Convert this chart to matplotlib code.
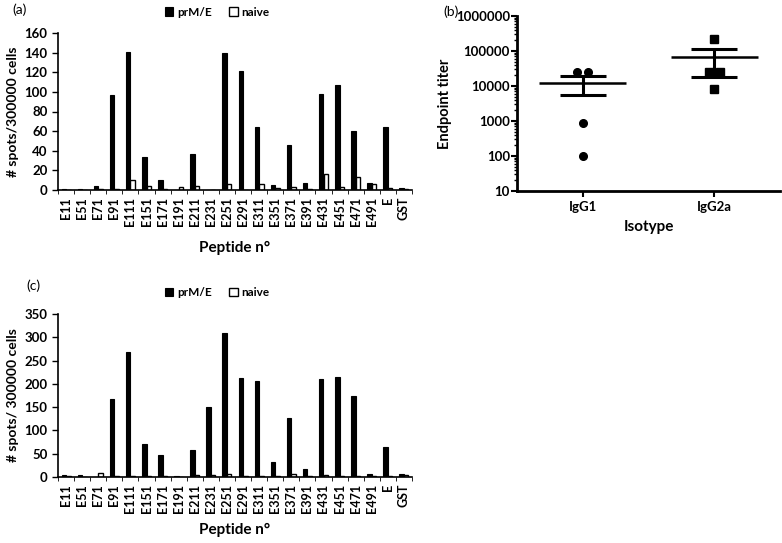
import numpy as np
import matplotlib
matplotlib.use("Agg")
import matplotlib.pyplot as plt
from matplotlib.ticker import LogLocator, NullFormatter, FixedLocator

plt.rcParams['font.family'] = ['Lato', 'DejaVu Sans']
plt.rcParams['font.weight'] = 'bold'

peptides = ["E11", "E51", "E71", "E91", "E111", "E151", "E171", "E191", "E211", "E231",
            "E251", "E291", "E311", "E351", "E371", "E391", "E431", "E451", "E471", "E491",
            "E", "GST"]

a_prme = [1, 1, 4, 97, 141, 34, 10, 0, 37, 0, 140, 121, 64, 5, 46, 7, 98, 107, 60, 7, 64, 2]
a_naive = [0, 0, 1, 1, 10, 4, 1, 3, 4, 0, 6, 0, 6, 2, 3, 1, 16, 3, 13, 6, 2, 1]

c_prme = [4, 5, 1, 167, 268, 70, 47, 3, 59, 151, 309, 212, 206, 33, 126, 18, 210, 214, 175, 6, 64, 7]
c_naive = [3, 1, 9, 3, 3, 2, 2, 1, 5, 5, 7, 2, 2, 2, 6, 2, 5, 2, 2, 2, 2, 4]

isotypes = ["IgG1", "IgG2a"]
igg1_titers = [25000, 25000, 900, 100]
igg2a_titers = [215000, 25000, 25000, 8000]
igg1_mean, igg1_low, igg1_high = 12400, 5500, 19300
igg2a_mean, igg2a_low, igg2a_high = 69000, 18500, 117000

W, H = 782, 543
fig = plt.figure(figsize=(W / 100, H / 100), dpi=100)


def ax_rect(x0, y0, x1, y1):
    return [x0 / W, 1 - y1 / H, (x1 - x0) / W, (y1 - y0) / H]


def bar_panel(ax, prme, naive, ymax, ystep, ylabel, xlabpad):
    x = np.arange(len(peptides))
    bw = 0.28
    ax.bar(x - bw / 2, prme, width=bw, color='black', edgecolor='black', linewidth=0.8, label='prM/E')
    ax.bar(x + bw / 2, naive, width=bw, color='white', edgecolor='black', linewidth=1.0, label='naive')
    ax.set_xlim(-0.5, len(peptides) - 0.5)
    ax.set_ylim(0, ymax)
    ax.set_yticks(np.arange(0, ymax + 1, ystep))
    ax.set_xticks(x)
    ax.set_xticklabels(peptides, rotation=90, fontsize=9, fontweight='bold')
    ax.tick_params(axis='x', length=0, pad=5)
    ax.xaxis.set_minor_locator(FixedLocator(np.arange(-0.5, len(peptides), 1)))
    ax.tick_params(axis='x', which='minor', length=3, width=0.6, direction='out')
    ax.tick_params(axis='y', length=4, width=1, labelsize=9.5)
    for lab in ax.get_yticklabels():
        lab.set_fontweight('bold')
    for s in ['top', 'right']:
        ax.spines[s].set_visible(False)
    ax.spines['left'].set_linewidth(1.2)
    ax.spines['bottom'].set_linewidth(1.2)
    ax.set_ylabel(ylabel, fontsize=10, fontweight='bold', labelpad=4)
    ax.set_xlabel('Peptide n°', fontsize=11, fontweight='bold', labelpad=xlabpad)
    ax.legend(loc='lower center', bbox_to_anchor=(0.45, 1.03), ncol=2, frameon=False,
              handlelength=0.7, handleheight=0.7, handletextpad=0.3, columnspacing=1.5,
              prop={'weight': 'bold', 'size': 8.5})


axa = fig.add_axes(ax_rect(58, 33, 412, 190))
bar_panel(axa, a_prme, a_naive, 160, 20, '# spots/300000 cells', 11)

axc = fig.add_axes(ax_rect(58, 314, 412, 477))
bar_panel(axc, c_prme, c_naive, 350, 50, '# spots/ 300000 cells', 7)

# Panel (b)
axb = fig.add_axes(ax_rect(517, 16, 780, 191))
axb.set_yscale('log')
axb.set_ylim(10, 1e6)
axb.set_xlim(-0.5, 1.5)
jit1 = [-0.04, 0.04, 0, 0]
jit2 = [0, -0.04, 0.04, 0]
axb.plot(np.zeros(len(igg1_titers)) + jit1, igg1_titers, 'o', color='black', markersize=5.5)
axb.plot(np.ones(len(igg2a_titers)) + jit2, igg2a_titers, 's', color='black', markersize=5.5)
for xi, m, lo, hi in [(0, igg1_mean, igg1_low, igg1_high), (1, igg2a_mean, igg2a_low, igg2a_high)]:
    axb.hlines(m, xi - 0.33, xi + 0.33, color='black', linewidth=1.8)
    axb.hlines([lo, hi], xi - 0.175, xi + 0.175, color='black', linewidth=2.2)
    axb.vlines(xi, lo, hi, color='black', linewidth=2.2)
axb.set_xticks([0, 1])
axb.set_xticklabels(isotypes, fontsize=9.5, fontweight='bold')
axb.set_yticks([10, 100, 1000, 10000, 100000, 1000000])
axb.set_yticklabels(['10', '100', '1000', '10000', '100000', '1000000'], fontsize=9.5, fontweight='bold')
axb.yaxis.set_minor_locator(LogLocator(base=10, subs=np.arange(2, 10)))
axb.yaxis.set_minor_formatter(NullFormatter())
axb.tick_params(axis='y', which='major', length=4, width=1.5, pad=1)
axb.tick_params(axis='y', which='minor', length=2, width=1)
axb.tick_params(axis='x', length=4, width=1.5)
for s in ['top', 'right']:
    axb.spines[s].set_visible(False)
axb.spines['left'].set_linewidth(2)
axb.spines['bottom'].set_linewidth(2)
axb.set_ylabel('Endpoint titer', fontsize=10.5, fontweight='bold', labelpad=3)
axb.set_xlabel('Isotype', fontsize=11, fontweight='bold', labelpad=5)

fig.text(12 / W, 1 - 10 / H, '(a)', fontsize=10, va='center', ha='left', fontweight='normal')
fig.text(443 / W, 1 - 12 / H, '(b)', fontsize=10, va='center', ha='left', fontweight='normal')
fig.text(26 / W, 1 - 286 / H, '(c)', fontsize=10, va='center', ha='left', fontweight='normal')

fig.savefig('out.png', dpi=100)
